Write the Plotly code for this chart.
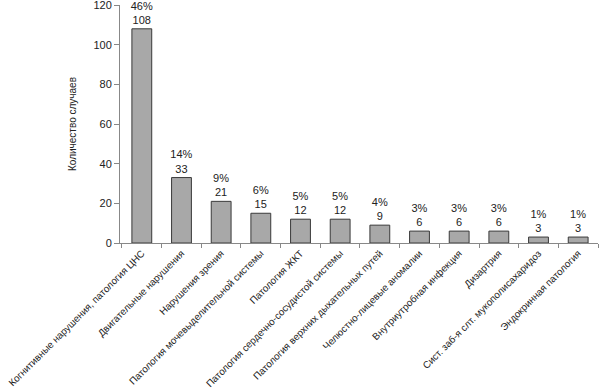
import plotly.graph_objects as go

categories = [
    "Когнитивные нарушения, патология ЦНС",
    "Двигательные нарушения",
    "Нарушения зрения",
    "Патология мочевыделительной системы",
    "Патология ЖКТ",
    "Патология сердечно-сосудистой системы",
    "Патология верхних дыхательных путей",
    "Челюстно-лицевые аномалии",
    "Внутриутробная инфекция",
    "Дизартрия",
    "Сист. заб-я слт. мукополисахаридоз",
    "Эндокринная патология",
]
counts = [108, 33, 21, 15, 12, 12, 9, 6, 6, 6, 3, 3]
percents = ["46%", "14%", "9%", "6%", "5%", "5%", "4%", "3%", "3%", "3%", "1%", "1%"]
y_ticks = [0, 20, 40, 60, 80, 100, 120]

fig = go.Figure()
fig.add_trace(go.Bar(
    x=categories, y=counts,
    marker=dict(color="#a8a8a8", line=dict(color="#3a3a3a", width=1)),
    width=0.5,
    text=[f"{p}<br>{c}" for p, c in zip(percents, counts)],
    textposition="outside",
    constraintext="none",
    textfont=dict(size=11, color="#222"),
    cliponaxis=False,
))

fig.update_layout(
    width=600, height=392,
    margin=dict(l=120, r=2, t=5, b=149),
    plot_bgcolor="white", paper_bgcolor="white",
    font=dict(family="Liberation Sans, Arial, sans-serif", size=10, color="#222"),
    showlegend=False,
    bargap=0.5,
)
fig.update_yaxes(
    range=[0, 120], tickvals=y_ticks, showgrid=False,
    showline=True, linecolor="#888", linewidth=1,
    ticks="outside", ticklen=5, tickcolor="#888",
    tickfont=dict(size=11), ticklabeloverflow="allow",
    title=dict(text="Количество случаев", font=dict(size=10), standoff=14),
    zeroline=False, automargin=False,
)
fig.update_xaxes(
    showline=True, linecolor="#888", linewidth=1,
    ticks="outside", ticklen=4, tickcolor="#888", tickson="boundaries",
    tickangle=-45, tickfont=dict(size=9.8),
    range=[-0.55, 11.5], automargin=False,
)

fig.write_html(
    "out.html",
    config={"displayModeBar": False},
    post_script="document.body.style.margin='0';document.body.style.overflow='hidden';",
)
